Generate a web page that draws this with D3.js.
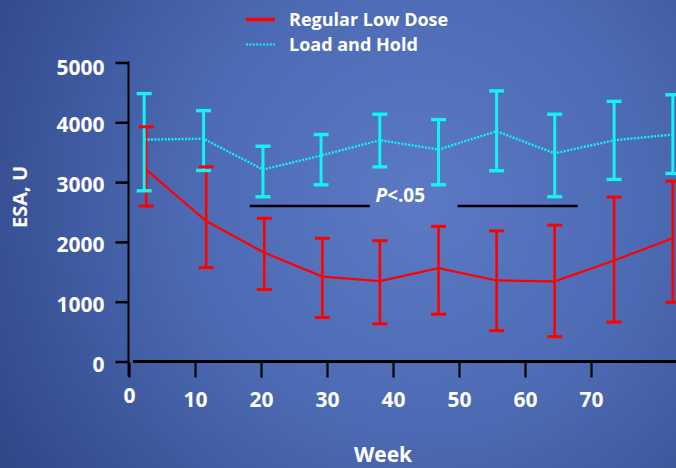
<!DOCTYPE html>
<html>
<head>
<meta charset="utf-8">
<script src="https://cdn.jsdelivr.net/npm/d3@7"></script>
<style>
  html, body { margin: 0; padding: 0; background: #3f5aa0; }
  svg { display: block; }
  text { font-family: "Open Sans", "DejaVu Sans", sans-serif; font-weight: 700; fill: #ffffff; }
</style>
</head>
<body>
<svg id="chart" width="676" height="468"></svg>
<script>
// Study weeks at which ESA dose was recorded for each arm
const weeksLowDose  = [2.6, 11.7, 20.5, 29.3, 38.0, 46.9, 55.7, 64.5, 73.5, 82.4];
const weeksLoadHold = [2.3, 11.3, 20.3, 29.1, 38.0, 46.9, 55.7, 64.5, 73.5, 82.4];

// Regular Low Dose arm: mean ESA dose (U) with error-bar limits
const meanLowDose  = [3210, 2350, 1820, 1420, 1345, 1560, 1355, 1340, 1690, 2060];
const upperLowDose = [3925, 3255, 2395, 2060, 2020, 2260, 2185, 2280, 2750, 3015];
const lowerLowDose = [2600, 1570, 1205, 735, 630, 790, 515, 415, 660, 990];

// Load and Hold arm: mean ESA dose (U) with error-bar limits
const meanLoadHold  = [3710, 3725, 3210, 3445, 3700, 3545, 3850, 3480, 3700, 3795];
const upperLoadHold = [4480, 4195, 3600, 3795, 4135, 4045, 4525, 4135, 4350, 4460];
const lowerLoadHold = [2855, 3195, 2755, 2955, 3255, 2955, 3190, 2755, 3045, 3145];

// Axis ticks
const xTicks = [0, 10, 20, 30, 40, 50, 60, 70];
const yTicks = [0, 1000, 2000, 3000, 4000, 5000];

// Significance bracket (week spans) and its level in U
const sigSpans = [[18.3, 36.5], [49.8, 68.0]];
const sigLevel = 2600;
const sigLabelWeek = 41.1;
const sigLabelLevel = 2660;

const seriesNames = ["Regular Low Dose", "Load and Hold"];

const RED = "#ff0000";
const CYAN = "#14f2f2";

const svg = d3.select("#chart");
const W = 676, H = 468;

// Background: soft blue radial glow
const defs = svg.append("defs");
const grad = defs.append("radialGradient")
  .attr("id", "bg").attr("gradientUnits", "userSpaceOnUse")
  .attr("cx", 420).attr("cy", 200).attr("r", 500);
grad.append("stop").attr("offset", "0").attr("stop-color", "#5b7ac3");
grad.append("stop").attr("offset", "0.45").attr("stop-color", "#4d6bb4");
grad.append("stop").attr("offset", "1").attr("stop-color", "#2f4688");
svg.append("rect").attr("width", W).attr("height", H).attr("fill", "url(#bg)");

const x = d3.scaleLinear().domain([0, 83]).range([129, 676.8]);
const y = d3.scaleLinear().domain([0, 5000]).range([361.5, 62.5]);

// ---- axes ----
const axisX = x(0) - 0.5;
const yAxis = svg.append("g").attr("transform", `translate(${axisX},0)`)
  .call(d3.axisLeft(y).tickValues(yTicks).tickFormat(d3.format("d"))
    .tickSize(13).tickPadding(11).tickSizeOuter(0));
yAxis.select(".domain").remove();
yAxis.selectAll(".tick line").attr("stroke", "#000").attr("stroke-width", 2.5);
yAxis.selectAll(".tick text")
  .attr("dy", null).attr("y", d => d === 5000 ? 12 : 9.5)
  .style("font-size", "21px");

svg.append("line")
  .attr("x1", axisX).attr("x2", axisX)
  .attr("y1", y(5000) - 1).attr("y2", y(0) + 14)
  .attr("stroke", "#000").attr("stroke-width", 2);

const xAxis = svg.append("g").attr("transform", `translate(0,${y(0)})`)
  .call(d3.axisBottom(x).tickValues(xTicks).tickFormat(d3.format("d"))
    .tickSize(16).tickSizeOuter(0));
xAxis.select(".domain").attr("stroke", "#000").attr("stroke-width", 3)
  .attr("d", `M${x(0) + 4},0H${W}`);
xAxis.selectAll(".tick line").attr("stroke", "#000").attr("stroke-width", 2.2)
  .attr("y1", 1);
xAxis.selectAll(".tick text")
  .attr("dy", null).attr("y", d => d === 0 ? 41 : 45)
  .style("font-size", "21px");

// Axis titles
svg.append("text")
  .attr("x", 383).attr("y", 462)
  .attr("text-anchor", "middle").style("font-size", "21px")
  .text("Week");
svg.append("text")
  .attr("transform", "translate(27,197) rotate(-90)")
  .attr("text-anchor", "middle").style("font-size", "20px")
  .text("ESA, U");

// ---- data layers ----
const lowDose = weeksLowDose.map((w, i) => ({ w, m: meanLowDose[i], hi: upperLowDose[i], lo: lowerLowDose[i] }));
const loadHold = weeksLoadHold.map((w, i) => ({ w, m: meanLoadHold[i], hi: upperLoadHold[i], lo: lowerLoadHold[i] }));

const line = d3.line().x(d => x(d.w)).y(d => y(d.m));
const capHalf = 7.5;

const plot = svg.append("g");

// Regular Low Dose: mean line and whiskers
plot.append("path").datum(lowDose)
  .attr("d", line).attr("fill", "none")
  .attr("stroke", RED).attr("stroke-width", 2.2);
plot.selectAll(".rv").data(lowDose).join("line")
  .attr("x1", d => x(d.w)).attr("x2", d => x(d.w))
  .attr("y1", d => y(d.hi)).attr("y2", d => y(d.lo))
  .attr("stroke", RED).attr("stroke-width", 2.6);

// Load and Hold: dotted mean line, whiskers and caps
plot.append("path").datum(loadHold)
  .attr("d", line).attr("fill", "none")
  .attr("stroke", CYAN).attr("stroke-width", 2.4)
  .attr("stroke-dasharray", "2,1.4");
plot.selectAll(".cv").data(loadHold).join("line")
  .attr("x1", d => x(d.w)).attr("x2", d => x(d.w))
  .attr("y1", d => y(d.hi)).attr("y2", d => y(d.lo))
  .attr("stroke", CYAN).attr("stroke-width", 3);
["hi", "lo"].forEach(k => {
  plot.selectAll(".cc-" + k).data(loadHold).join("line")
    .attr("x1", d => x(d.w) - capHalf).attr("x2", d => x(d.w) + capHalf)
    .attr("y1", d => y(d[k])).attr("y2", d => y(d[k]))
    .attr("stroke", CYAN).attr("stroke-width", 3.4);
});

// Regular Low Dose caps sit on top
["hi", "lo"].forEach(k => {
  plot.selectAll(".rc-" + k).data(lowDose).join("line")
    .attr("x1", d => x(d.w) - capHalf).attr("x2", d => x(d.w) + capHalf)
    .attr("y1", d => y(d[k])).attr("y2", d => y(d[k]))
    .attr("stroke", RED).attr("stroke-width", 3);
});

// Significance bracket
svg.selectAll(".sig").data(sigSpans).join("line")
  .attr("x1", d => x(d[0])).attr("x2", d => x(d[1]))
  .attr("y1", y(sigLevel)).attr("y2", y(sigLevel))
  .attr("stroke", "#000").attr("stroke-width", 2.4);
const sig = svg.append("text")
  .attr("x", x(sigLabelWeek)).attr("y", y(sigLabelLevel))
  .attr("text-anchor", "middle").style("font-size", "19px");
sig.append("tspan").style("font-style", "italic").text("P");
sig.append("tspan").text("<.05");

// ---- legend ----
const legend = svg.append("g");
const legendY = [19.5, 44.5];
legend.append("line")
  .attr("x1", 246).attr("x2", 275).attr("y1", legendY[0]).attr("y2", legendY[0])
  .attr("stroke", RED).attr("stroke-width", 3.6);
legend.append("line")
  .attr("x1", 246).attr("x2", 275).attr("y1", legendY[1]).attr("y2", legendY[1])
  .attr("stroke", CYAN).attr("stroke-width", 2.2)
  .attr("stroke-dasharray", "2,1.4");
legend.selectAll("text").data(seriesNames).join("text")
  .attr("x", 289).attr("y", (d, i) => legendY[i] + 6.5)
  .style("font-size", "18px")
  .text(d => d);
</script>
</body>
</html>
